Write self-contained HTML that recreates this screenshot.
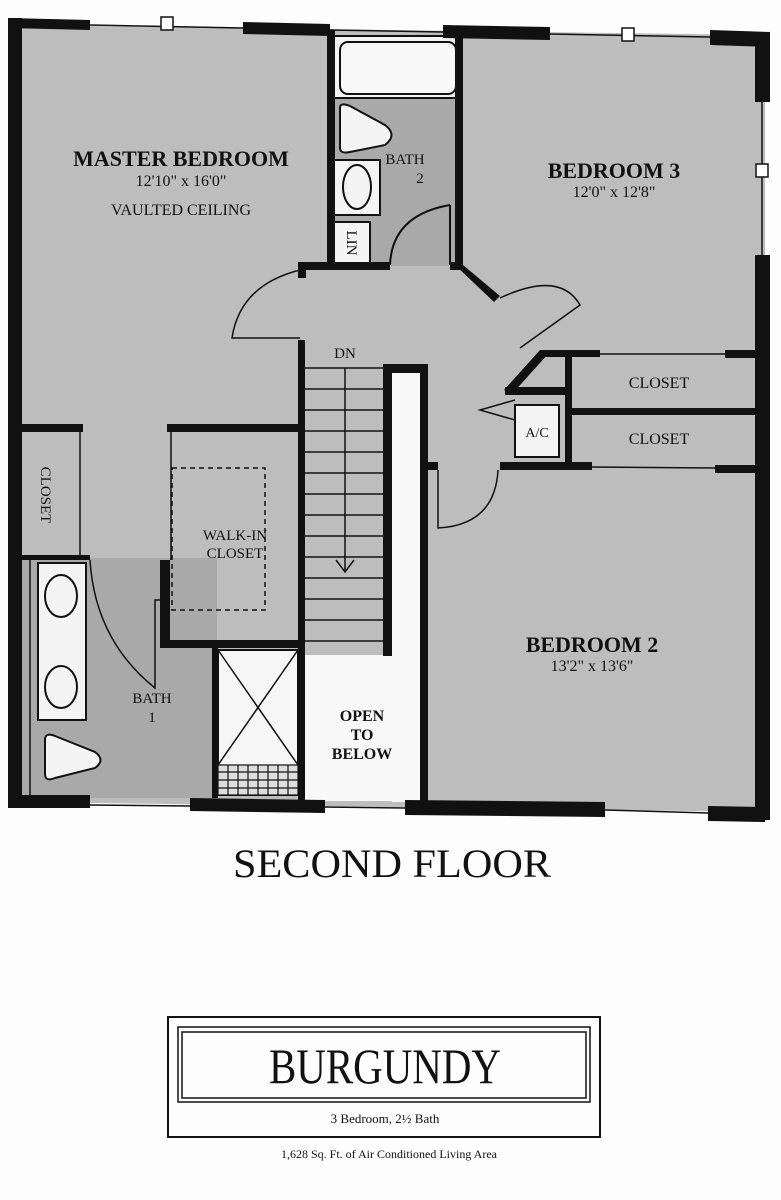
<!DOCTYPE html>
<html><head><meta charset="utf-8"><style>
html,body{margin:0;padding:0;background:#fff}
svg{display:block}
text{font-family:"Liberation Serif",serif;fill:#111}
</style></head><body>
<svg width="781" height="1200" viewBox="0 0 781 1200" xmlns="http://www.w3.org/2000/svg">
<rect width="781" height="1200" fill="#fdfdfd"/>
<!-- floor fill -->
<polygon points="15,25 765,35 765,812 15,802" fill="#bdbdbd"/>
<!-- open to below white -->
<rect x="392" y="372" width="30" height="430" fill="#f8f8f8"/>
<rect x="305" y="655" width="117" height="146" fill="#f8f8f8"/>
<!-- bath 2 crosshatch -->
<rect x="334" y="98" width="122" height="168" fill="#a9a9a9"/>
<!-- bath 1 crosshatch -->
<rect x="22" y="558" width="195" height="240" fill="#a9a9a9"/>
<!-- tub -->
<rect x="334" y="36" width="122" height="62" fill="#f4f4f4" stroke="#111" stroke-width="2"/>
<rect x="340" y="42" width="116" height="52" rx="8" fill="#f8f8f8" stroke="#111" stroke-width="2"/>
<!-- toilet bath2 -->
<path d="M340,108 Q340,102 350,106 L385,125 Q398,135 385,145 L350,152 Q340,154 340,148 Z" fill="#f4f4f4" stroke="#111" stroke-width="2"/>
<rect x="334" y="160" width="46" height="55" fill="#f4f4f4" stroke="#111" stroke-width="2"/>
<ellipse cx="357" cy="187" rx="14" ry="22" fill="#f4f4f4" stroke="#111" stroke-width="2"/>
<rect x="334" y="222" width="36" height="42" fill="#f4f4f4" stroke="#111" stroke-width="2"/>
<text x="352" y="243" font-size="15" text-anchor="middle" transform="rotate(90 352 243)" dy="5">LIN</text>
<!-- bath2 door arc -->
<path d="M450,205 L450,265 M450,205 Q392,215 390,265" fill="none" stroke="#111" stroke-width="2"/>
<!-- walls top -->
<g fill="#111">
<polygon points="8,18 90,20 90,30 8,28"/>
<polygon points="243,22 330,24 330,36 243,34"/>
<polygon points="443,25 550,27 550,40 443,38"/>
<polygon points="710,30 770,32 770,47 710,45"/>
<rect x="8" y="18" width="14" height="790"/>
<rect x="755" y="32" width="15" height="70"/>
<rect x="755" y="255" width="15" height="565"/>
<polygon points="8,795 90,795 90,808 8,808"/>
<polygon points="190,798 325,800 325,813 190,811"/>
<polygon points="405,800 605,802 605,817 405,815"/>
<polygon points="708,806 765,807 765,822 708,821"/>
<!-- bath2 walls -->
<rect x="327" y="30" width="8" height="238"/>
<rect x="455" y="36" width="8" height="232"/>
<rect x="298" y="262" width="92" height="8"/>
<rect x="298" y="262" width="8" height="16"/>
<rect x="450" y="262" width="13" height="8"/>
<polygon points="455,265 463,265 500,296 494,302"/>
<!-- stair walls -->
<rect x="298" y="340" width="7" height="462"/>
<rect x="383" y="364" width="45" height="9"/>
<rect x="383" y="364" width="9" height="292"/>
<rect x="420" y="364" width="8" height="438"/>
<rect x="428" y="462" width="10" height="8"/>
<!-- closets right -->
<rect x="540" y="350" width="60" height="7"/>
<rect x="725" y="350" width="32" height="8"/>
<rect x="565" y="350" width="7" height="120"/>
<rect x="570" y="408" width="187" height="7"/>
<rect x="500" y="462" width="92" height="8"/>
<rect x="715" y="465" width="42" height="8"/>
<polygon points="540,350 548,354 512,394 504,390"/>
<rect x="505" y="387" width="62" height="8"/>
<!-- master closets -->
<rect x="20" y="424" width="63" height="8"/>
<rect x="167" y="424" width="131" height="8"/>
<rect x="160" y="560" width="10" height="88"/>
<rect x="160" y="640" width="142" height="8"/>
<rect x="20" y="555" width="70" height="5"/>
<rect x="212" y="648" width="6" height="150"/>
</g>
<!-- thin wall lines -->
<g stroke="#111" stroke-width="1.5" fill="none">
<line x1="90" y1="25" x2="243" y2="28"/>
<line x1="330" y1="30" x2="443" y2="32"/>
<line x1="550" y1="34" x2="710" y2="37"/>
<line x1="762" y1="102" x2="762" y2="255"/>
<line x1="90" y1="805" x2="190" y2="806"/>
<line x1="325" y1="807" x2="405" y2="808"/>
<line x1="605" y1="810" x2="708" y2="813"/>
<line x1="600" y1="354" x2="725" y2="354"/>
<line x1="592" y1="467" x2="715" y2="468"/>
<line x1="80" y1="432" x2="80" y2="555"/>
<line x1="171" y1="432" x2="171" y2="560"/>
<!-- stairs -->
<line x1="305" y1="368" x2="383" y2="368"/>
<line x1="305" y1="389" x2="383" y2="389"/>
<line x1="305" y1="410" x2="383" y2="410"/>
<line x1="305" y1="431" x2="383" y2="431"/>
<line x1="305" y1="452" x2="383" y2="452"/>
<line x1="305" y1="473" x2="383" y2="473"/>
<line x1="305" y1="494" x2="383" y2="494"/>
<line x1="305" y1="515" x2="383" y2="515"/>
<line x1="305" y1="536" x2="383" y2="536"/>
<line x1="305" y1="557" x2="383" y2="557"/>
<line x1="305" y1="578" x2="383" y2="578"/>
<line x1="305" y1="599" x2="383" y2="599"/>
<line x1="305" y1="620" x2="383" y2="620"/>
<line x1="305" y1="641" x2="383" y2="641"/>
<line x1="345" y1="368" x2="345" y2="572"/>
<polyline points="336,560 345,572 354,560"/>
<!-- door arcs -->
<path d="M300,270 Q240,285 232,338 L300,338"/>
<path d="M500,298 Q560,270 580,305 L520,348"/>
<path d="M438,470 L438,528 Q495,525 498,470"/>
<path d="M90,560 Q95,640 155,688 L155,600 L160,600"/>
<polyline points="515,400 480,410 515,420"/>
<rect x="172" y="468" width="93" height="142" stroke-dasharray="5,4"/>
</g>
<!-- window marks -->
<g fill="#fff" stroke="#111" stroke-width="1.5">
<rect x="161" y="17" width="12" height="13"/>
<rect x="622" y="28" width="12" height="13"/>
<rect x="756" y="164" width="12" height="13"/>
</g>
<!-- A/C -->
<rect x="515" y="405" width="44" height="52" fill="#f4f4f4" stroke="#111" stroke-width="2"/>
<text x="537" y="437" font-size="14" text-anchor="middle">A/C</text>
<!-- bath1 fixtures -->
<rect x="38" y="563" width="48" height="157" fill="#f4f4f4" stroke="#111" stroke-width="2"/>
<ellipse cx="61" cy="596" rx="16" ry="21" fill="#f4f4f4" stroke="#111" stroke-width="2"/>
<ellipse cx="61" cy="687" rx="16" ry="21" fill="#f4f4f4" stroke="#111" stroke-width="2"/>
<line x1="30" y1="560" x2="30" y2="795" stroke="#111" stroke-width="1.5"/>
<path d="M45,740 Q45,732 55,736 L95,752 Q106,760 95,768 L55,778 Q45,782 45,774 Z" fill="#f4f4f4" stroke="#111" stroke-width="2"/>
<!-- shower -->
<rect x="218" y="650" width="80" height="145" fill="#f6f6f6" stroke="#111" stroke-width="2"/>
<path d="M218,650 L298,765 M298,650 L218,765" stroke="#111" stroke-width="1.5"/>
<g stroke="#111" stroke-width="1.2">
<rect x="218" y="765" width="80" height="30" fill="#ddd"/>
<line x1="218" y1="772" x2="298" y2="772"/><line x1="218" y1="780" x2="298" y2="780"/><line x1="218" y1="788" x2="298" y2="788"/>
<line x1="228" y1="765" x2="228" y2="795"/><line x1="238" y1="765" x2="238" y2="795"/><line x1="248" y1="765" x2="248" y2="795"/><line x1="258" y1="765" x2="258" y2="795"/><line x1="268" y1="765" x2="268" y2="795"/><line x1="278" y1="765" x2="278" y2="795"/><line x1="288" y1="765" x2="288" y2="795"/>
</g>
<!-- labels -->
<text x="181" y="166" font-size="22" font-weight="bold" text-anchor="middle">MASTER BEDROOM</text>
<text x="181" y="186" font-size="16" text-anchor="middle">12'10" x 16'0"</text>
<text x="181" y="215" font-size="16" text-anchor="middle">VAULTED CEILING</text>
<text x="405" y="164" font-size="15" text-anchor="middle">BATH</text>
<text x="420" y="183" font-size="15" text-anchor="middle">2</text>
<text x="614" y="178" font-size="22" font-weight="bold" text-anchor="middle">BEDROOM 3</text>
<text x="614" y="197" font-size="16" text-anchor="middle">12'0" x 12'8"</text>
<text x="345" y="358" font-size="15" text-anchor="middle">DN</text>
<text x="659" y="388" font-size="16" text-anchor="middle">CLOSET</text>
<text x="659" y="444" font-size="16" text-anchor="middle">CLOSET</text>
<text x="46" y="495" font-size="15" text-anchor="middle" transform="rotate(90 46 495)" dy="5">CLOSET</text>
<text x="235" y="540" font-size="15" text-anchor="middle">WALK-IN</text>
<text x="235" y="558" font-size="15" text-anchor="middle">CLOSET</text>
<text x="152" y="703" font-size="15" text-anchor="middle">BATH</text>
<text x="152" y="722" font-size="15" text-anchor="middle">1</text>
<text x="362" y="721" font-size="16" font-weight="bold" text-anchor="middle">OPEN</text>
<text x="362" y="740" font-size="16" font-weight="bold" text-anchor="middle">TO</text>
<text x="362" y="759" font-size="16" font-weight="bold" text-anchor="middle">BELOW</text>
<text x="592" y="652" font-size="22" font-weight="bold" text-anchor="middle">BEDROOM 2</text>
<text x="592" y="671" font-size="16" text-anchor="middle">13'2" x 13'6"</text>
<!-- title -->
<text x="392" y="877" font-size="40" text-anchor="middle" textLength="318" lengthAdjust="spacingAndGlyphs">SECOND FLOOR</text>
<rect x="168" y="1017" width="432" height="120" fill="none" stroke="#111" stroke-width="2"/>
<rect x="178" y="1027" width="412" height="75" fill="none" stroke="#111" stroke-width="1.5"/>
<rect x="182" y="1032" width="404" height="66" fill="none" stroke="#111" stroke-width="1.5"/>
<text x="385" y="1083" font-size="50" text-anchor="middle" textLength="232" lengthAdjust="spacingAndGlyphs">BURGUNDY</text>
<text x="385" y="1123" font-size="13" text-anchor="middle">3 Bedroom, 2½ Bath</text>
<text x="389" y="1158" font-size="12" text-anchor="middle">1,628 Sq. Ft. of Air Conditioned Living Area</text>
</svg>
</body></html>
